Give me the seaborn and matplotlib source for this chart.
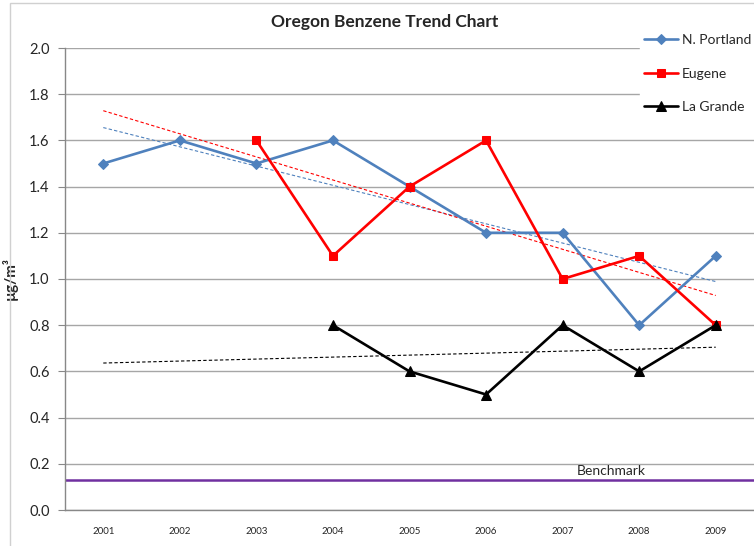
import numpy as np
import pandas as pd
import seaborn as sns
import matplotlib.pyplot as plt
from matplotlib.patches import Rectangle

years = ['2001', '2002', '2003', '2004', '2005', '2006', '2007', '2008', '2009']
portland = [1.5, 1.6, 1.5, 1.6, 1.4, 1.2, 1.2, 0.8, 1.1]
eugene = [np.nan, np.nan, 1.6, 1.1, 1.4, 1.6, 1.0, 1.1, 0.8]
la_grande = [np.nan, np.nan, np.nan, 0.8, 0.6, 0.5, 0.8, 0.6, 0.8]
benchmark = 0.13

series = [
    ('N. Portland', portland, '#4F81BD', 'D', 5),
    ('Eugene', eugene, '#FF0000', 's', 6),
    ('La Grande', la_grande, '#000000', '^', 7),
]

sns.set_style('white')
plt.rcParams['font.family'] = ['Lato', 'DejaVu Sans']

fig = plt.figure(figsize=(7.54, 5.46), dpi=100)
ax = fig.add_axes([65 / 754, 1 - 510 / 546, (754 - 65) / 754, (510 - 48) / 546])

pos = np.arange(len(years))
handles = []
for name, vals, color, marker, ms in series:
    df = pd.DataFrame({'x': pos, 'y': vals}).dropna()
    sns.lineplot(data=df, x='x', y='y', color=color, marker=marker, markersize=ms,
                 markeredgecolor=color, linewidth=1.9, ax=ax, zorder=3)
    handles.append(ax.lines[-1])
    # linear trendline (Excel style)
    k, b = np.polyfit(df['x'], df['y'], 1)
    trend = pd.DataFrame({'x': pos, 'y': k * pos + b})
    sns.lineplot(data=trend, x='x', y='y', color=color, linestyle=(0, (3, 2)),
                 linewidth=0.8, ax=ax, zorder=2)

ax.axhline(benchmark, color='#7030A0', linewidth=1.8, zorder=2)
ax.text(6.63, benchmark + 0.015, 'Benchmark', ha='center', va='bottom', fontsize=10)

ax.set_xlim(-0.5, 8.5)
ax.set_ylim(0, 2.0)
ax.set_yticks(np.arange(0, 2.01, 0.2))
ax.set_yticklabels([f'{v:.1f}' for v in np.arange(0, 2.01, 0.2)], fontsize=10.5)
ax.set_xticks(pos)
ax.set_xticklabels(years, fontsize=7)
ax.set_xticks(np.arange(-0.5, 8.6, 1), minor=True)
ax.tick_params(axis='x', which='major', length=0, pad=12)
ax.tick_params(axis='x', which='minor', length=4, color='#888888', direction='out')
ax.tick_params(axis='y', length=5, color='#888888', direction='out', pad=6, left=True)
ax.grid(axis='y', color='#A6A6A6', linewidth=1)
ax.set_axisbelow(True)
ax.set_xlabel('')
ax.set_ylabel('µg/m³', fontsize=11, fontweight='bold')
ax.yaxis.set_label_coords(-0.068, 0.5)

for s in ['top', 'right']:
    ax.spines[s].set_visible(False)
for s in ['left', 'bottom']:
    ax.spines[s].set_color('#888888')
    ax.spines[s].set_linewidth(1)

leg = ax.legend(handles, [s[0] for s in series], loc='upper left',
                bbox_to_anchor=(640 / 754, 1 - 30 / 546), bbox_transform=fig.transFigure,
                fontsize=10, frameon=True, facecolor='white', edgecolor='white',
                framealpha=1, labelspacing=1.55, handlelength=2.4, handletextpad=0.3,
                borderpad=0.3, borderaxespad=0, fancybox=False)

fig.text(385 / 754, 1 - 22 / 546, 'Oregon Benzene Trend Chart', ha='center', va='center',
         fontsize=12.5, fontweight='bold')

fig.patches.append(Rectangle((10 / 754, -0.05), 1.0, 1.05 - 3 / 546, transform=fig.transFigure,
                             fill=False, edgecolor='#D0D0D0', linewidth=1))

fig.savefig('out.png', dpi=100)
